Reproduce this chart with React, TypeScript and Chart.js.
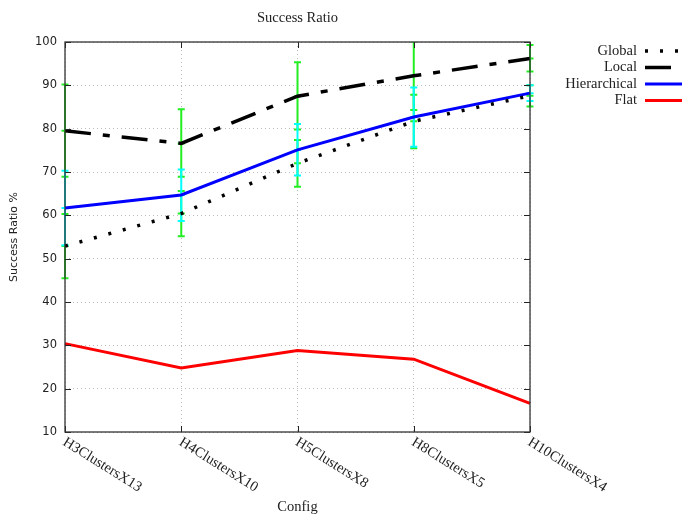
import React, { useEffect, useRef } from 'react';
import { Chart, registerables } from 'chart.js';

Chart.register(...registerables);

// ---- data ----
const configs = ['H3ClustersX13', 'H4ClustersX10', 'H5ClustersX8', 'H8ClustersX5', 'H10ClustersX4'];
const globalRatio = [52.9, 60.4, 72.0, 81.7, 87.6];
const localRatio = [79.5, 76.6, 87.5, 92.2, 96.2];
const hierarchicalRatio = [61.7, 64.7, 75.1, 82.7, 88.2];
const flatRatio = [30.4, 24.8, 28.8, 26.8, 16.6];

const globalLow = [45.5, 55.2, 66.6, 75.5, 85.1];
const globalHigh = [60.3, 65.6, 77.4, 87.8, 90.0];
const localLow = [68.9, 68.9, 79.8, 84.3, 93.2];
const localHigh = [90.2, 84.5, 95.3, 100.1, 99.3];
const hierarchicalLow = [53.1, 58.7, 69.2, 75.8, 86.4];
const hierarchicalHigh = [70.3, 70.6, 81.1, 89.5, 90.0];

const yMin = 10;
const yMax = 100;
const yStep = 10;

const chartTitle = 'Success Ratio';
const xTitle = 'Config';
const yTitle = 'Success Ratio %';

const SERIF = '"Liberation Serif", "Times New Roman", serif';
const SANS = '"DejaVu Sans", sans-serif';

const errorSets = [
  { color: '#22ee22', center: globalRatio, low: globalLow, high: globalHigh },
  { color: '#22ee22', center: localRatio, low: localLow, high: localHigh },
  { color: '#00ffff', center: hierarchicalRatio, low: hierarchicalLow, high: hierarchicalHigh },
];

const gnuplotPlugin = {
  id: 'gnuplotLook',
  beforeDatasetsDraw(chart: any) {
    const { ctx, chartArea: a, scales } = chart;
    const x = scales.x;
    const y = scales.y;
    ctx.save();
    ctx.beginPath();
    ctx.rect(a.left - 6, a.top, a.right - a.left + 12, a.bottom - a.top);
    ctx.clip();
    errorSets.forEach((es) => {
      ctx.strokeStyle = es.color;
      ctx.lineWidth = 2;
      es.low.forEach((lo, i) => {
        const px = x.getPixelForValue(i);
        const pl = y.getPixelForValue(lo);
        const ph = y.getPixelForValue(es.high[i]);
        const pc = y.getPixelForValue(es.center[i]);
        ctx.beginPath();
        ctx.moveTo(px, pl);
        ctx.lineTo(px, ph);
        [pl, ph, pc].forEach((p) => {
          ctx.moveTo(px - 3.5, p);
          ctx.lineTo(px + 3.5, p);
        });
        ctx.stroke();
      });
    });
    ctx.restore();
  },
  afterDraw(chart: any) {
    const { ctx, chartArea: a, scales } = chart;
    const x = scales.x;
    const y = scales.y;
    ctx.save();

    // inward tick marks
    ctx.strokeStyle = '#222';
    ctx.lineWidth = 1;
    ctx.beginPath();
    y.ticks.forEach((t: any) => {
      const py = Math.round(y.getPixelForValue(t.value)) + 0.5;
      ctx.moveTo(a.left, py);
      ctx.lineTo(a.left + 6, py);
      ctx.moveTo(a.right, py);
      ctx.lineTo(a.right - 6, py);
    });
    configs.forEach((_, i) => {
      const px = Math.round(x.getPixelForValue(i)) + 0.5;
      ctx.moveTo(px, a.bottom);
      ctx.lineTo(px, a.bottom - 6);
      ctx.moveTo(px, a.top);
      ctx.lineTo(px, a.top + 6);
    });
    ctx.stroke();

    // frame
    ctx.strokeStyle = '#333';
    ctx.lineWidth = 1.3;
    ctx.strokeRect(a.left, a.top, a.right - a.left, a.bottom - a.top);

    // x tick labels (rotated clockwise)
    ctx.fillStyle = '#222';
    ctx.font = `14.5px ${SERIF}`;
    ctx.textAlign = 'left';
    ctx.textBaseline = 'middle';
    configs.forEach((label, i) => {
      const px = x.getPixelForValue(i);
      ctx.save();
      ctx.translate(px - 1, a.bottom + 9);
      ctx.rotate((32 * Math.PI) / 180);
      ctx.fillText(label, 0, 0);
      ctx.restore();
    });

    // axis titles and chart title
    ctx.textAlign = 'center';
    ctx.fillText(xTitle, (a.left + a.right) / 2, 507);
    ctx.fillText(chartTitle, (a.left + a.right) / 2, 18);

    ctx.save();
    ctx.font = `11px ${SANS}`;
    ctx.translate(14, (a.top + a.bottom) / 2);
    ctx.rotate(-Math.PI / 2);
    ctx.fillText(yTitle, 0, 0);
    ctx.restore();

    // legend
    ctx.font = `14.5px ${SERIF}`;
    ctx.textAlign = 'right';
    chart.data.datasets.forEach((ds: any, i: number) => {
      const ly = 51 + i * 16.5;
      ctx.fillStyle = '#222';
      ctx.fillText(ds.label, 637, ly);
      ctx.save();
      ctx.strokeStyle = ds.borderColor;
      ctx.lineWidth = ds.borderWidth;
      ctx.setLineDash(ds.borderDash || []);
      ctx.beginPath();
      ctx.moveTo(645, ly);
      ctx.lineTo(682, ly);
      ctx.stroke();
      ctx.restore();
    });

    ctx.restore();
  },
};

export default function App() {
  const canvasRef = useRef<HTMLCanvasElement | null>(null);

  useEffect(() => {
    document.body.style.margin = '0';
    const canvas = canvasRef.current;
    if (!canvas) return;
    const chart = new Chart(canvas, {
      type: 'line',
      data: {
        labels: configs,
        datasets: [
          {
            label: 'Global',
            data: globalRatio,
            borderColor: '#000000',
            borderWidth: 3.5,
            borderDash: [3, 12],
            pointRadius: 0,
            tension: 0,
            fill: false,
          },
          {
            label: 'Local',
            data: localRatio,
            borderColor: '#000000',
            borderWidth: 3.5,
            borderDash: [26, 12, 7, 12],
            pointRadius: 0,
            tension: 0,
            fill: false,
          },
          {
            label: 'Hierarchical',
            data: hierarchicalRatio,
            borderColor: '#0000ff',
            borderWidth: 3,
            pointRadius: 0,
            tension: 0,
            fill: false,
          },
          {
            label: 'Flat',
            data: flatRatio,
            borderColor: '#ff0000',
            borderWidth: 3,
            pointRadius: 0,
            tension: 0,
            fill: false,
          },
        ],
      },
      options: {
        responsive: false,
        animation: false,
        layout: { padding: { left: 0, right: 159, top: 42, bottom: 0 } },
        plugins: {
          legend: { display: false },
          title: { display: false },
          tooltip: { enabled: false },
        },
        scales: {
          x: {
            type: 'category',
            offset: false,
            grid: { color: '#bbbbbb', lineWidth: 1, drawTicks: false },
            border: { display: false, dash: [1, 3] },
            ticks: { display: false },
            afterFit: (s: any) => {
              s.height = 83;
            },
          },
          y: {
            min: yMin,
            max: yMax,
            grid: { color: '#bbbbbb', lineWidth: 1, drawTicks: false },
            border: { display: false, dash: [1, 3] },
            ticks: {
              stepSize: yStep,
              padding: 8,
              color: '#222',
              font: { family: SANS, size: 11.5 },
            },
            afterFit: (s: any) => {
              s.width = 65;
            },
          },
        },
      },
      plugins: [gnuplotPlugin],
    });
    return () => chart.destroy();
  }, []);

  return <canvas ref={canvasRef} width={689} height={515} style={{ display: 'block' }} />;
}
